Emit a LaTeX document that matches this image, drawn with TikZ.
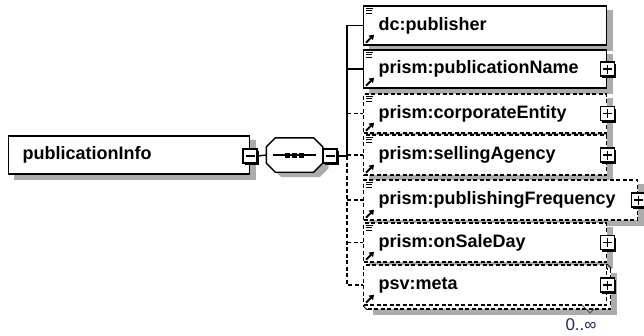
\documentclass[tikz,border=0pt]{standalone}
\usepackage{fontspec}
\setmainfont{Liberation Sans}
\usetikzlibrary{shadows,arrows.meta,backgrounds}

\definecolor{boxshade}{RGB}{172,172,172}
\definecolor{occurs}{RGB}{25,45,100}

\tikzset{
  elem/.style={draw, fill=white, anchor=west, minimum height=39pt,
    text width=213pt, inner xsep=15pt, inner ysep=0pt, align=left,
    font=\fontsize{18}{20}\selectfont\bfseries},
  opt/.style={dash pattern=on 4pt off 2.5pt},
  expander/.style={draw, fill=white, minimum size=14pt, inner sep=0pt,
    drop shadow={shadow xshift=2pt, shadow yshift=-2pt, fill=black, opacity=1}},
  plusbox/.style={expander, path picture={
    \draw ([xshift=2.5pt]path picture bounding box.west) -- ([xshift=-2.5pt]path picture bounding box.east);
    \draw ([yshift=-2.5pt]path picture bounding box.north) -- ([yshift=2.5pt]path picture bounding box.south);}},
  minusbox/.style={expander, path picture={
    \draw ([xshift=2.5pt]path picture bounding box.west) -- ([xshift=-2.5pt]path picture bounding box.east);}}
}

\begin{document}
\begin{tikzpicture}[x=1pt, y=-1pt, line width=1.4pt]
        \useasboundingbox (0,0) rectangle (644,335);
        % parent element and its sequence
        \node[elem, text width=213pt, inner xsep=14pt, minimum height=38pt] (pubinfo) at (8,155) {publicationInfo};
        \node[minusbox] (pubminus) at (250,156) {};
        \node[minimum width=55pt, minimum height=33pt, inner sep=0pt] (seq) at (294.5,155) {};
        \filldraw[fill=white] ([xshift=9pt]seq.north west) -- ([xshift=-9pt]seq.north east)
            -- ([yshift=-9pt]seq.north east) -- ([yshift=9pt]seq.south east)
            -- ([xshift=-9pt]seq.south east) -- ([xshift=9pt]seq.south west)
            -- ([yshift=9pt]seq.south west) -- ([yshift=-9pt]seq.north west) -- cycle;
        \node[minusbox] (seqminus) at (330,156) {};
        \draw (pubminus.east) -- (seq.west);
        \draw ([xshift=7pt]seq.west) -- ([xshift=-7pt]seq.east);
        \foreach \d in {-7,0,7}
            \fill ([xshift=\d pt]seq.center) +(-2.5pt,-2.5pt) rectangle +(2.5pt,2.5pt);
        \coordinate (fork) at (347,156);

        % child elements
        \node[elem] (dcpub) at (363,25.5) {dc:publisher};
        \node[elem, minimum height=38pt] (pubname) at (363,69) {prism:publicationName};
        \node[elem, opt] (corpent) at (363,113.5) {prism:corporateEntity};
        \node[elem, opt, minimum height=40pt] (sellag) at (363,155) {prism:sellingAgency};
        \node[elem, opt, minimum height=40pt, text width=244pt] (pubfreq) at (363,200) {prism:publishingFrequency};
        \node[elem, opt] (onsale) at (363,242.5) {prism:onSaleDay};
        \node[elem, opt, minimum height=40pt] (metaback) at (367,289) {};
        \node[elem, opt, minimum height=40pt] (meta) at (363,285) {psv:meta};
        \draw[line width=.8pt] (meta.north east) -- (metaback.north east);
        \draw[line width=.8pt] (meta.south west) -- (metaback.south west);

        \foreach \n in {pubname,corpent,sellag,pubfreq,onsale,meta}
            \node[plusbox] (\n plus) at (\n.east) {};

        % shadows
        \begin{scope}[on background layer]
            \foreach \n in {pubinfo,dcpub,pubname,corpent,sellag,pubfreq,onsale,metaback}
                \fill[boxshade] ([shift={(6pt,-5pt)}]\n.north west) rectangle ([shift={(6pt,-5pt)}]\n.south east);
            \fill[boxshade] ([shift={(15pt,-5pt)}]seq.north west) -- ([shift={(-3pt,-5pt)}]seq.north east)
                -- ([shift={(6pt,-14pt)}]seq.north east) -- ([shift={(6pt,4pt)}]seq.south east)
                -- ([shift={(-3pt,-5pt)}]seq.south east) -- ([shift={(15pt,-5pt)}]seq.south west)
                -- ([shift={(6pt,4pt)}]seq.south west) -- ([shift={(6pt,-14pt)}]seq.north west) -- cycle;
        \end{scope}

        % icons
        \foreach \n in {dcpub,pubname,corpent,sellag,pubfreq,onsale}
            \draw[line width=.9pt] ([shift={(2.5pt,-3pt)}]\n.north west) -- +(7pt,0pt)
                ([shift={(2.5pt,-5.5pt)}]\n.north west) -- +(6pt,0pt)
                ([shift={(2.5pt,-8pt)}]\n.north west) -- +(6pt,0pt);
        \foreach \n in {dcpub,pubname,corpent,sellag,pubfreq,onsale,meta}
            \draw[line width=2pt, -{Triangle[length=4.5pt,width=6pt]}]
                ([shift={(3pt,3pt)}]\n.south west) -- +(8pt,8pt);

        % connectors
        \draw (seqminus.east) -- (fork);
        \draw (dcpub.west) -| (fork);
        \draw (pubname.west) -- (pubname.west -| fork);
        \draw[opt] (fork) |- (meta.west);
        \foreach \n in {corpent,sellag,pubfreq,onsale}
            \draw[opt] (fork |- \n.west) -- (\n.west);

        % occurrence
        \draw[line width=.8pt, black!70] (582,305) -- (590,313) -- (594,309);
        \node[occurs, font=\fontsize{17}{19}\selectfont] (mult) at (581,325) {0..∞};
\end{tikzpicture}
\end{document}
